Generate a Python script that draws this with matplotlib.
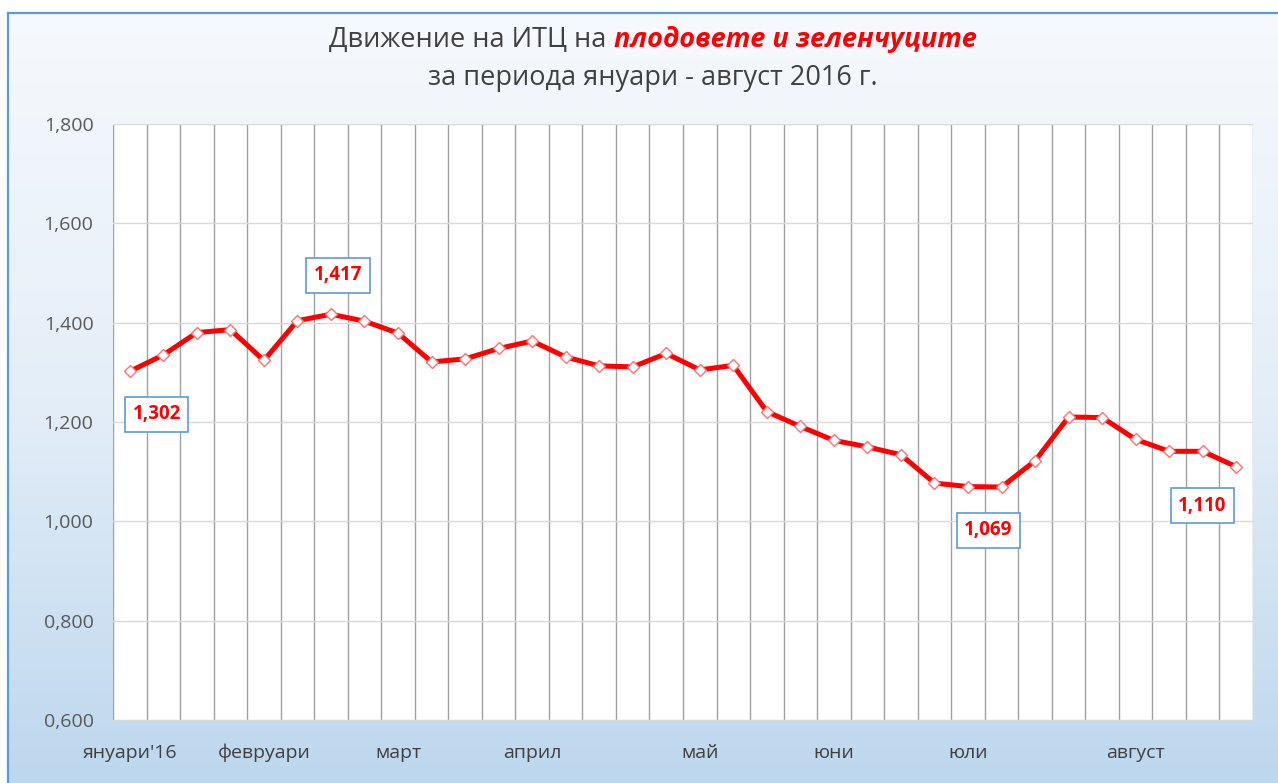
import numpy as np
import matplotlib.pyplot as plt
from matplotlib import font_manager
from matplotlib.colors import LinearSegmentedColormap

# pick a family that really has a bold face
fam = 'DejaVu Sans'
for f in ['Open Sans', 'Noto Sans', 'Roboto', 'Lato', 'Liberation Sans']:
    try:
        p = font_manager.findfont(font_manager.FontProperties(family=f, weight='bold'),
                                  fallback_to_default=False)
        if 'bold' in p.lower():
            fam = f
            break
    except Exception:
        pass
plt.rcParams['font.family'] = [fam, 'DejaVu Sans']

W, H = 1278, 783

# weekly index values, January - August 2016
values = [1.302, 1.335, 1.380, 1.386, 1.324, 1.404, 1.417, 1.403, 1.379,
          1.321, 1.327, 1.348, 1.363, 1.331, 1.313, 1.311, 1.338, 1.305,
          1.314, 1.221, 1.191, 1.163, 1.150, 1.134, 1.077, 1.070, 1.069,
          1.122, 1.210, 1.209, 1.165, 1.141, 1.141, 1.110]
month_pos = [0, 4, 8, 12, 17, 21, 25, 30]
month_names = ["януари'16", "февруари", "март", "април", "май", "юни", "юли", "август"]
labelled = [0, 6, 26, 33]
label_offsets = [(27, -43), (7, 39), (-13, -43), (-34, -39)]  # pixels

fig = plt.figure(figsize=(W / 100, H / 100), dpi=100)
fig.patch.set_facecolor('white')

# gradient panel behind the chart
bg = fig.add_axes([8 / W, 0, 1 - 8 / W, 1 - 13 / H])
grad = np.linspace(0, 1, 256).reshape(-1, 1)
cmap = LinearSegmentedColormap.from_list('bg', ['#F6F9FD', '#E4EEF8', '#BDD7EE'])
bg.imshow(grad, aspect='auto', cmap=cmap, extent=[0, 1, 0, 1], origin='upper')
bg.set_xticks([])
bg.set_yticks([])
for s in ['right', 'bottom']:
    bg.spines[s].set_visible(False)
for s in ['left', 'top']:
    bg.spines[s].set_color('#5B9BD5')
    bg.spines[s].set_linewidth(1.6)

ax = fig.add_axes([113 / W, 63 / H, 1140 / W, 596 / H])
ax.set_facecolor('white')
x = np.arange(len(values))
ax.plot(x, values, color='#FF0000', lw=3.6, marker='D', ms=6.5,
        mfc='white', mec='#FF7070', mew=1, zorder=3)
ax.set_xlim(-0.5, len(values) - 0.5)
ax.set_ylim(0.6, 1.8)

yt = np.arange(0.6, 1.81, 0.2)
ax.set_yticks(yt)
ax.set_yticklabels([f"{v:.3f}".replace('.', ',') for v in yt])
ax.set_xticks(month_pos)
ax.set_xticklabels(month_names)
ax.set_xticks(np.arange(-0.5, len(values), 1), minor=True)
ax.grid(axis='x', which='minor', color='#A0A0A0', lw=1)
ax.grid(axis='x', which='major', visible=False)
ax.grid(axis='y', which='major', color='#D9D9D9', lw=1)
ax.set_axisbelow(True)
ax.tick_params(which='both', length=0)
ax.tick_params(axis='y', pad=14, labelsize=14, labelcolor='#595959')
ax.tick_params(axis='x', pad=17, labelsize=14, labelcolor='#404040')
for s in ['left', 'right', 'top']:
    ax.spines[s].set_visible(False)
ax.spines['bottom'].set_color('#D9D9D9')

for i, (dx, dy) in zip(labelled, label_offsets):
    ax.annotate(f"{values[i]:.3f}".replace('.', ','), xy=(i, values[i]),
                xytext=(dx, dy), textcoords='offset pixels',
                ha='center', va='center', color='red', fontweight='bold', fontsize=13.5,
                bbox=dict(boxstyle='square,pad=0.4', fc='white', ec='#5B9BD5', lw=1.2),
                zorder=5)

# title, two styles on the first line
fig.canvas.draw()
r = fig.canvas.get_renderer()
t1 = fig.text(0, 1 - 47 / H, "Движение на ИТЦ на", fontsize=19.5, color='#404040', va='baseline')
t2 = fig.text(0, 1 - 47 / H, "плодовете и зеленчуците", fontsize=19.5, color='red',
              style='italic', fontweight='bold', va='baseline')
w1 = t1.get_window_extent(r).width
w2 = t2.get_window_extent(r).width
gap = 7
x0 = 653 - (w1 + gap + w2) / 2
t1.set_x(x0 / W)
t2.set_x((x0 + w1 + gap) / W)
fig.text(653 / W, 1 - 85 / H, "за периода януари - август 2016 г.", fontsize=19.5,
         color='#404040', ha='center', va='baseline')

fig.savefig('out.png', dpi=100)
